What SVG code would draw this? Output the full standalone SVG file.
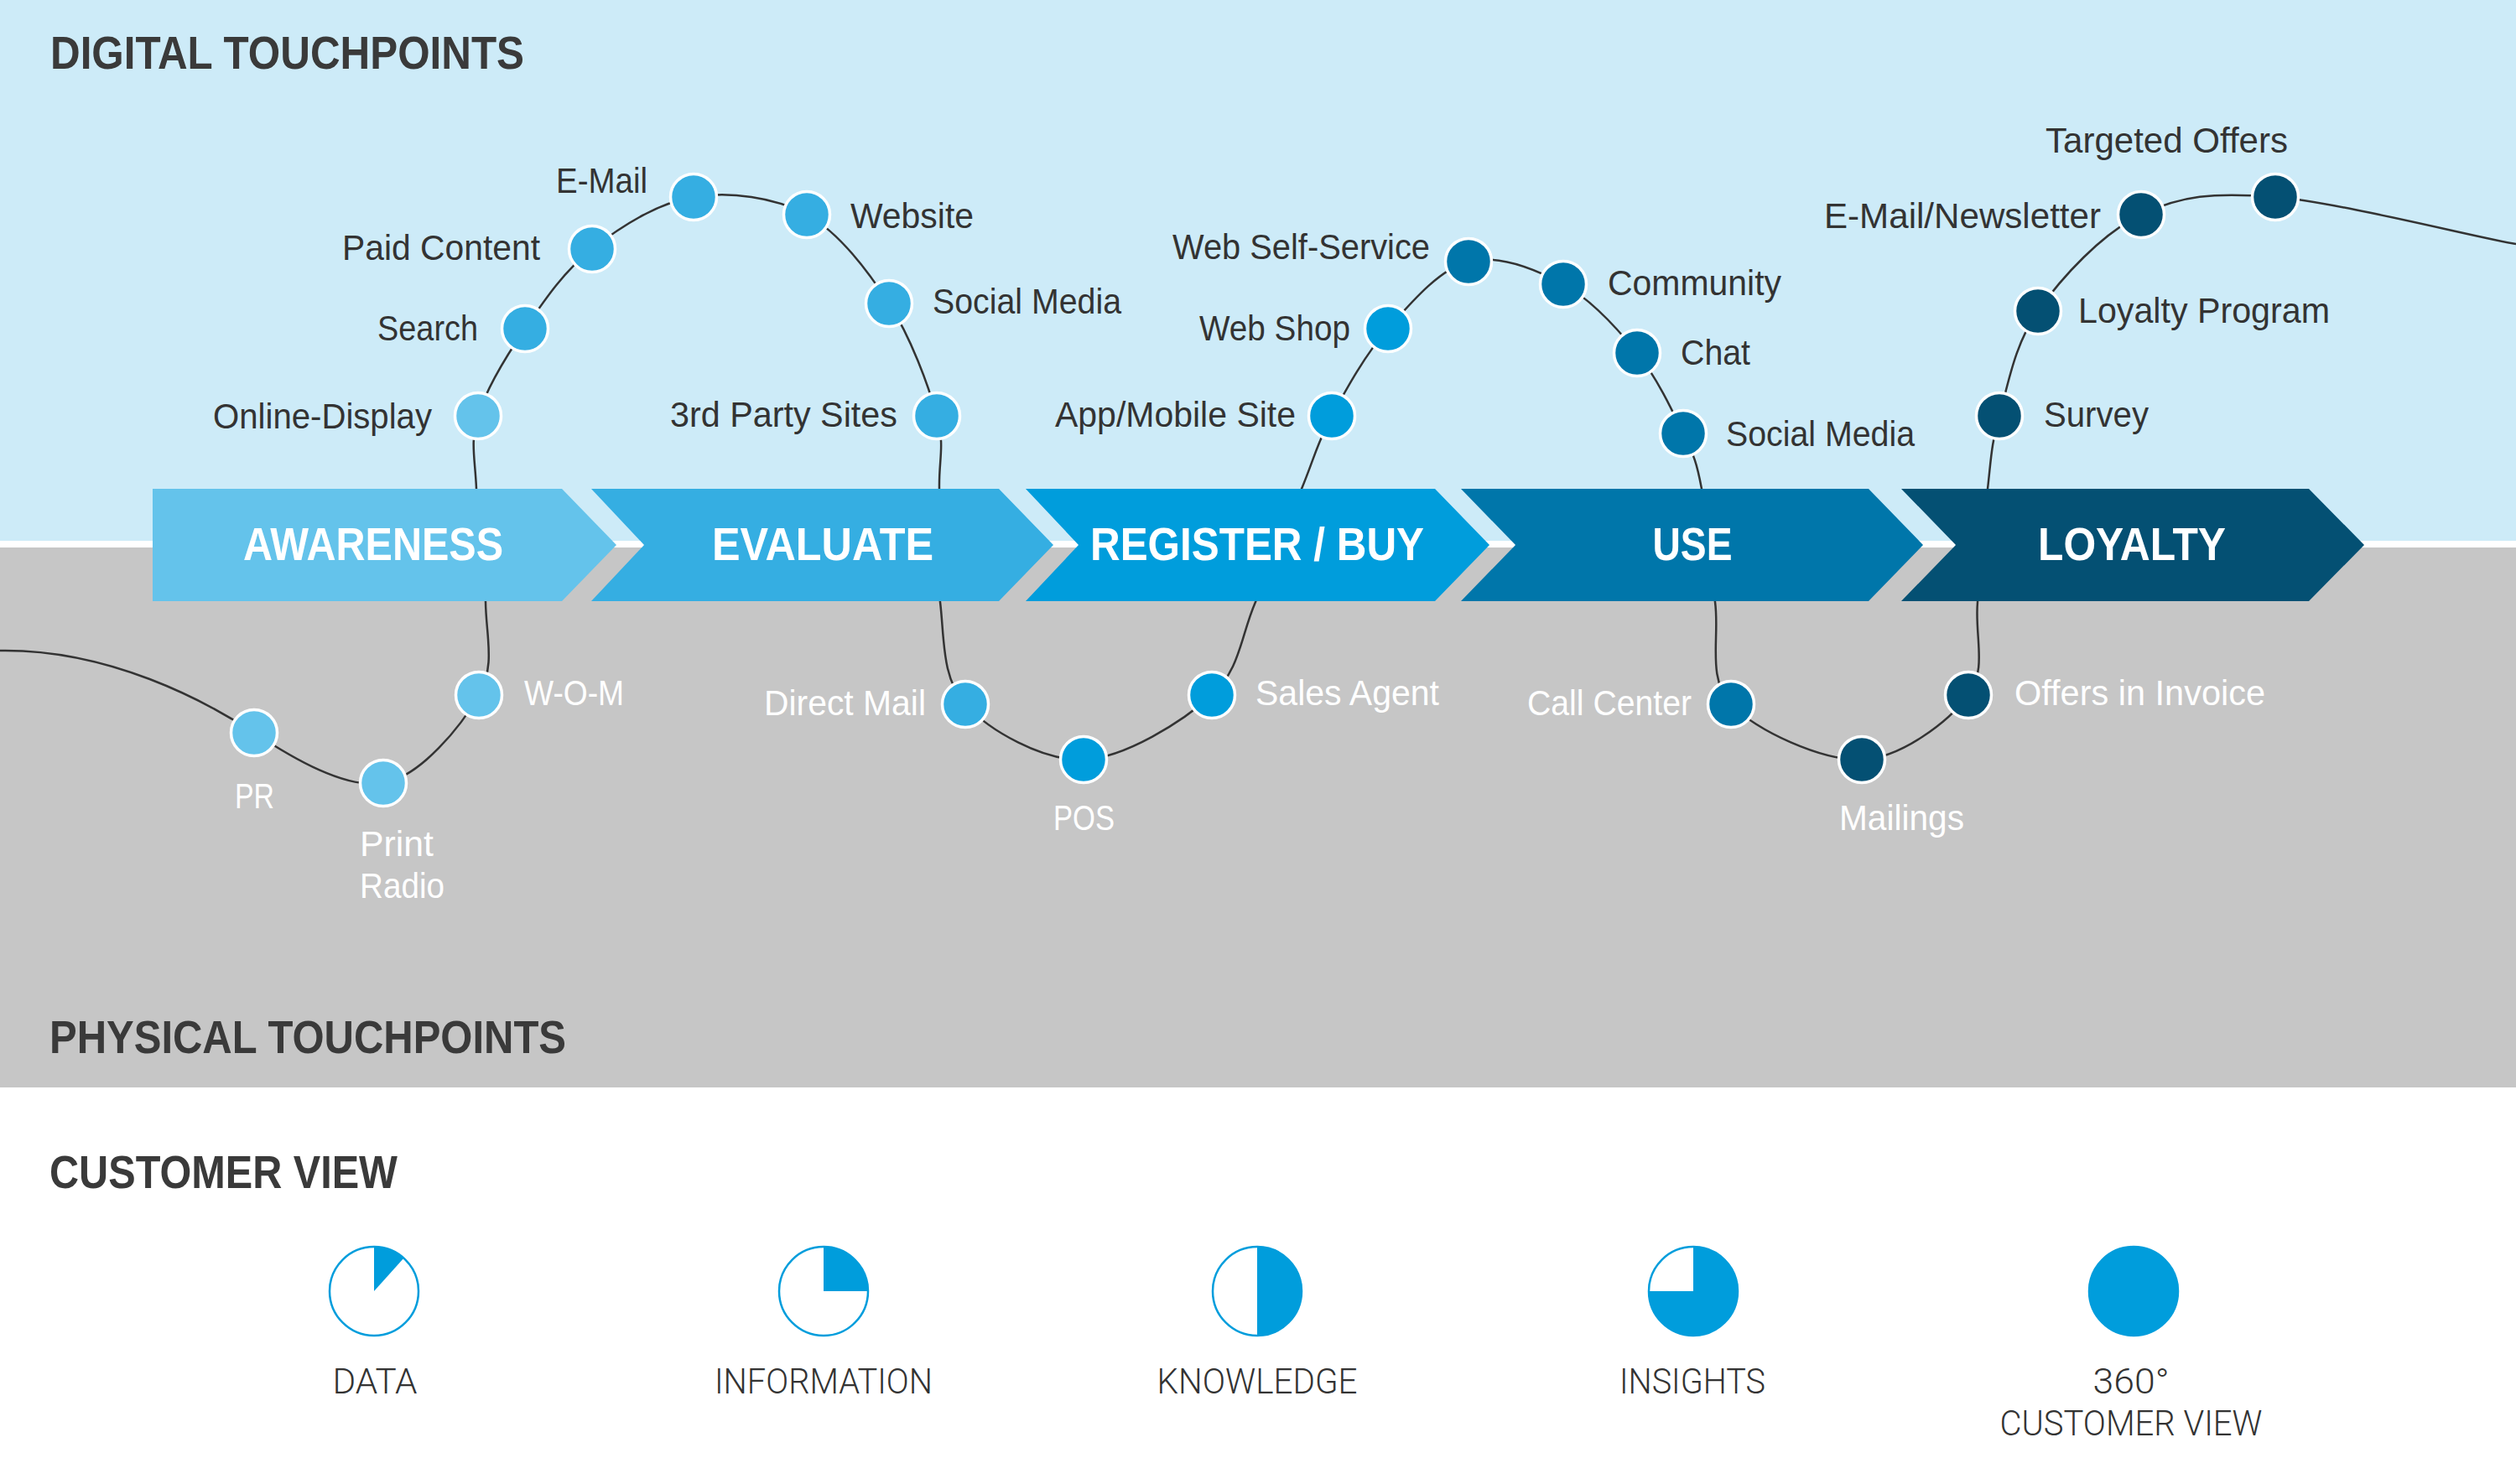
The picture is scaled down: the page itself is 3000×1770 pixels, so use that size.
<svg xmlns="http://www.w3.org/2000/svg" width="3000" height="1770" viewBox="0 0 3000 1770">
<style>
.lbl{font-family:"Liberation Sans",Arial,sans-serif;font-size:42px;fill:#333333}
.w{fill:#ffffff}
.hdr{font-family:"Liberation Sans",Arial,sans-serif;font-weight:bold;font-size:56px;fill:#3a3a3a}
.stage{font-family:"Liberation Sans",Arial,sans-serif;font-weight:bold;font-size:56px;fill:#ffffff;text-anchor:middle}
.cv{font-family:Roboto,"Liberation Sans",sans-serif;font-weight:300;font-size:43px;fill:#333333;text-anchor:middle}
.dot{stroke:#ffffff;stroke-width:3.5}
.c1{fill:#64c3eb}.c2{fill:#35aee2}.c3{fill:#009ddc}.c4{fill:#0076aa}.c5{fill:#045073}
.pie{fill:#ffffff;stroke:#009ddc;stroke-width:2.5}
.fill{fill:#009ddc}
</style>
<!-- backgrounds -->
<rect x="0" y="0" width="3000" height="645" fill="#cdebf8"/>
<rect x="0" y="645" width="3000" height="8" fill="#ffffff"/>
<rect x="0" y="653" width="3000" height="644" fill="#c6c6c6"/>
<rect x="0" y="1297" width="3000" height="473" fill="#ffffff"/>
<text class="hdr" x="60" y="82" textLength="565" lengthAdjust="spacingAndGlyphs">DIGITAL TOUCHPOINTS</text>
<text class="hdr w" x="59" y="1256" textLength="616" lengthAdjust="spacingAndGlyphs">PHYSICAL TOUCHPOINTS</text>
<text class="hdr" x="59" y="1417" textLength="415" lengthAdjust="spacingAndGlyphs">CUSTOMER VIEW</text>

<g id="connectors" fill="none" stroke="#333333" stroke-width="2.5">
<path d="M 0 776 C 130 774, 245 836, 303 874 C 350 905, 412.3 941.5, 457 934 C 501.7 926.5, 550.7 865, 571 829 C 591.3 793, 579.5 759, 579 718 C 578.5 677, 569.5 620, 568 583 C 566.5 546, 560.3 527.8, 570 496 C 579.7 464.2, 603.3 425.2, 626 392 C 648.7 358.8, 672.5 323.2, 706 297 C 739.5 270.8, 784.3 241.8, 827 235 C 869.7 228.2, 923.2 234.8, 962 256 C 1000.8 277.2, 1034.2 322, 1060 362 C 1085.8 402, 1107 459.2, 1117 496 C 1127 532.8, 1119.3 546, 1120 583 C 1120.7 620, 1115.8 675.2, 1121 718 C 1126.2 760.8, 1122.5 808.7, 1151 840 C 1179.5 871.3, 1243 907.8, 1292 906 C 1341 904.2, 1410.8 860.3, 1445 829 C 1479.2 797.7, 1479.2 759, 1497 718 C 1514.8 677, 1536.8 620, 1552 583 C 1567.2 546, 1570.8 527.8, 1588 496 C 1605.2 464.2, 1627.8 422.7, 1655 392 C 1682.2 361.3, 1716.2 320.8, 1751 312 C 1785.8 303.2, 1830.5 320.8, 1864 339 C 1897.5 357.2, 1928.2 391.3, 1952 421 C 1975.8 450.7, 1994.2 490, 2007 517 C 2019.8 544, 2022.7 549.5, 2029 583 C 2035.3 616.5, 2039.2 675.2, 2045 718 C 2050.8 760.8, 2034.8 808.7, 2064 840 C 2093.2 871.3, 2172.8 907.8, 2220 906 C 2267.2 904.2, 2324 860.3, 2347 829 C 2370 797.7, 2354.2 759, 2358 718 C 2361.8 677, 2365.7 620, 2370 583 C 2374.3 546, 2374 531.3, 2384 496 C 2394 460.7, 2401.8 411, 2430 371 C 2458.2 331, 2505.8 278.7, 2553 256 C 2600.2 233.3, 2638.5 229.2, 2713 235 C 2787.5 240.8, 2960 285, 3000 291"/>
</g>

<g id="stages">
<g id="stage-awareness"><polygon class="c1" points="182,583 670,583 735,650 670,717 182,717"/><text class="stage" x="445" y="668" textLength="310" lengthAdjust="spacingAndGlyphs">AWARENESS</text></g>
<g id="stage-evaluate"><polygon class="c2" points="705,583 1191,583 1256,650 1191,717 705,717 768,650"/><text class="stage" x="981" y="668" textLength="264" lengthAdjust="spacingAndGlyphs">EVALUATE</text></g>
<g id="stage-register"><polygon class="c3" points="1223,583 1711,583 1776,650 1711,717 1223,717 1286,650"/><text class="stage" x="1499" y="668" textLength="398" lengthAdjust="spacingAndGlyphs">REGISTER / BUY</text></g>
<g id="stage-use"><polygon class="c4" points="1742,583 2228,583 2293,650 2228,717 1742,717 1807,650"/><text class="stage" x="2018" y="668" textLength="95" lengthAdjust="spacingAndGlyphs">USE</text></g>
<g id="stage-loyalty"><polygon class="c5" points="2267,583 2753,583 2819,650 2753,717 2267,717 2332,650"/><text class="stage" x="2542" y="668" textLength="224" lengthAdjust="spacingAndGlyphs">LOYALTY</text></g>
</g>

<g id="digital">
<g id="n-online-display"><circle class="dot c1" cx="570" cy="496" r="27.5"/><text class="lbl" x="254" y="511" textLength="261" lengthAdjust="spacingAndGlyphs">Online-Display</text></g>
<g id="n-search"><circle class="dot c2" cx="626" cy="392" r="27.5"/><text class="lbl" x="450" y="406" textLength="120" lengthAdjust="spacingAndGlyphs">Search</text></g>
<g id="n-paid-content"><circle class="dot c2" cx="706" cy="297" r="27.5"/><text class="lbl" x="408" y="310" textLength="236" lengthAdjust="spacingAndGlyphs">Paid Content</text></g>
<g id="n-email"><circle class="dot c2" cx="827" cy="235" r="27.5"/><text class="lbl" x="663" y="230" textLength="109" lengthAdjust="spacingAndGlyphs">E-Mail</text></g>
<g id="n-website"><circle class="dot c2" cx="962" cy="256" r="27.5"/><text class="lbl" x="1014" y="272" textLength="147" lengthAdjust="spacingAndGlyphs">Website</text></g>
<g id="n-social-media-1"><circle class="dot c2" cx="1060" cy="362" r="27.5"/><text class="lbl" x="1112" y="374" textLength="225" lengthAdjust="spacingAndGlyphs">Social Media</text></g>
<g id="n-3rd-party"><circle class="dot c2" cx="1117" cy="496" r="27.5"/><text class="lbl" x="799" y="509" textLength="271" lengthAdjust="spacingAndGlyphs">3rd Party Sites</text></g>
<g id="n-app-mobile"><circle class="dot c3" cx="1588" cy="496" r="27.5"/><text class="lbl" x="1258" y="509" textLength="287" lengthAdjust="spacingAndGlyphs">App/Mobile Site</text></g>
<g id="n-web-shop"><circle class="dot c3" cx="1655" cy="392" r="27.5"/><text class="lbl" x="1430" y="406" textLength="180" lengthAdjust="spacingAndGlyphs">Web Shop</text></g>
<g id="n-web-self-service"><circle class="dot c4" cx="1751" cy="312" r="27.5"/><text class="lbl" x="1398" y="309" textLength="307" lengthAdjust="spacingAndGlyphs">Web Self-Service</text></g>
<g id="n-community"><circle class="dot c4" cx="1864" cy="339" r="27.5"/><text class="lbl" x="1917" y="352" textLength="207" lengthAdjust="spacingAndGlyphs">Community</text></g>
<g id="n-chat"><circle class="dot c4" cx="1952" cy="421" r="27.5"/><text class="lbl" x="2004" y="435" textLength="83" lengthAdjust="spacingAndGlyphs">Chat</text></g>
<g id="n-social-media-2"><circle class="dot c4" cx="2007" cy="517" r="27.5"/><text class="lbl" x="2058" y="532" textLength="225" lengthAdjust="spacingAndGlyphs">Social Media</text></g>
<g id="n-survey"><circle class="dot c5" cx="2384" cy="496" r="27.5"/><text class="lbl" x="2437" y="509" textLength="125" lengthAdjust="spacingAndGlyphs">Survey</text></g>
<g id="n-loyalty-program"><circle class="dot c5" cx="2430" cy="371" r="27.5"/><text class="lbl" x="2478" y="385" textLength="300" lengthAdjust="spacingAndGlyphs">Loyalty Program</text></g>
<g id="n-email-newsletter"><circle class="dot c5" cx="2553" cy="256" r="27.5"/><text class="lbl" x="2175" y="272" textLength="330" lengthAdjust="spacingAndGlyphs">E-Mail/Newsletter</text></g>
<g id="n-targeted-offers"><circle class="dot c5" cx="2713" cy="235" r="27.5"/><text class="lbl" x="2439" y="182" textLength="289" lengthAdjust="spacingAndGlyphs">Targeted Offers</text></g>
</g>

<g id="physical">
<g id="n-pr"><circle class="dot c1" cx="303" cy="874" r="27.5"/><text class="lbl w" x="280" y="964" textLength="47" lengthAdjust="spacingAndGlyphs">PR</text></g>
<g id="n-print-radio"><circle class="dot c1" cx="457" cy="934" r="27.5"/><text class="lbl w" x="429" y="1021" textLength="88" lengthAdjust="spacingAndGlyphs">Print</text><text class="lbl w" x="429" y="1071" textLength="101" lengthAdjust="spacingAndGlyphs">Radio</text></g>
<g id="n-wom"><circle class="dot c1" cx="571" cy="829" r="27.5"/><text class="lbl w" x="625" y="841" textLength="119" lengthAdjust="spacingAndGlyphs">W-O-M</text></g>
<g id="n-direct-mail"><circle class="dot c2" cx="1151" cy="840" r="27.5"/><text class="lbl w" x="911" y="853" textLength="193" lengthAdjust="spacingAndGlyphs">Direct Mail</text></g>
<g id="n-pos"><circle class="dot c3" cx="1292" cy="906" r="27.5"/><text class="lbl w" x="1256" y="990" textLength="73" lengthAdjust="spacingAndGlyphs">POS</text></g>
<g id="n-sales-agent"><circle class="dot c3" cx="1445" cy="829" r="27.5"/><text class="lbl w" x="1497" y="841" textLength="219" lengthAdjust="spacingAndGlyphs">Sales Agent</text></g>
<g id="n-call-center"><circle class="dot c4" cx="2064" cy="840" r="27.5"/><text class="lbl w" x="1821" y="853" textLength="196" lengthAdjust="spacingAndGlyphs">Call Center</text></g>
<g id="n-mailings"><circle class="dot c5" cx="2220" cy="906" r="27.5"/><text class="lbl w" x="2193" y="990" textLength="149" lengthAdjust="spacingAndGlyphs">Mailings</text></g>
<g id="n-offers-invoice"><circle class="dot c5" cx="2347" cy="829" r="27.5"/><text class="lbl w" x="2402" y="841" textLength="299" lengthAdjust="spacingAndGlyphs">Offers in Invoice</text></g>
</g>

<g id="customer-view">
<g id="cv-data"><circle class="pie" cx="446" cy="1540" r="53"/><path class="fill" d="M 446 1540 L 446 1487 A 53 53 0 0 1 481.5 1500.6 Z"/><text class="cv" x="447" y="1662" textLength="101" lengthAdjust="spacingAndGlyphs">DATA</text></g>
<g id="cv-information"><circle class="pie" cx="982" cy="1540" r="53"/><path class="fill" d="M 982 1540 L 982 1487 A 53 53 0 0 1 1035 1540 Z"/><text class="cv" x="982" y="1662" textLength="260" lengthAdjust="spacingAndGlyphs">INFORMATION</text></g>
<g id="cv-knowledge"><circle class="pie" cx="1499" cy="1540" r="53"/><path class="fill" d="M 1499 1487 A 53 53 0 0 1 1499 1593 Z"/><text class="cv" x="1499" y="1662" textLength="239" lengthAdjust="spacingAndGlyphs">KNOWLEDGE</text></g>
<g id="cv-insights"><circle class="pie" cx="2019" cy="1540" r="53"/><path class="fill" d="M 2019 1540 L 2019 1487 A 53 53 0 1 1 1966 1540 Z"/><text class="cv" x="2018" y="1662" textLength="174" lengthAdjust="spacingAndGlyphs">INSIGHTS</text></g>
<g id="cv-360"><circle class="pie" cx="2544" cy="1540" r="53" style="fill:#009ddc"/><text class="cv" x="2541" y="1662" textLength="91" lengthAdjust="spacingAndGlyphs">360°</text><text class="cv" x="2541" y="1712" textLength="313" lengthAdjust="spacingAndGlyphs">CUSTOMER VIEW</text></g>
</g>
</svg>
